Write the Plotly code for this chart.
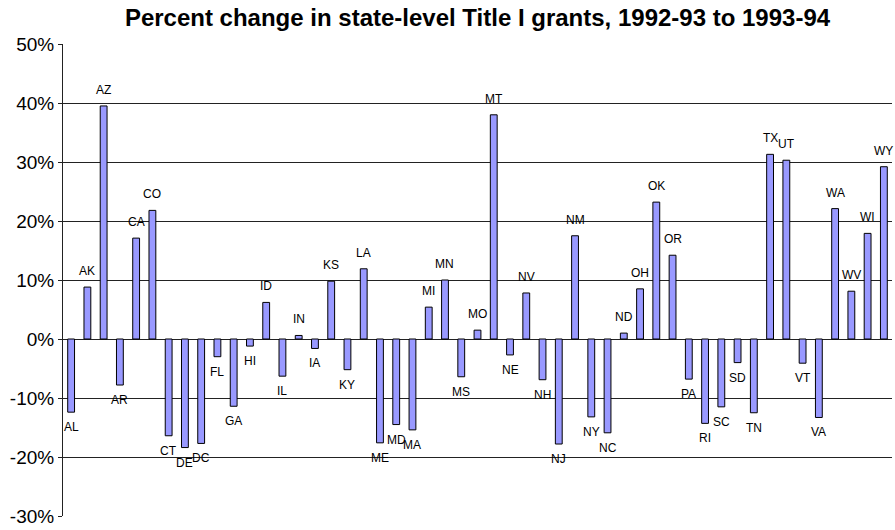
import plotly.graph_objects as go

states = ["AL", "AK", "AZ", "AR", "CA", "CO", "CT", "DE", "DC", "FL", "GA", "HI", "ID",
          "IL", "IN", "IA", "KS", "KY", "LA", "ME", "MD", "MA", "MI", "MN", "MS", "MO",
          "MT", "NE", "NV", "NH", "NJ", "NM", "NY", "NC", "ND", "OH", "OK", "OR", "PA",
          "RI", "SC", "SD", "TN", "TX", "UT", "VT", "VA", "WA", "WV", "WI", "WY"]
pct_change = [-12.4, 8.8, 39.5, -7.8, 17.1, 21.8, -16.4, -18.4, -17.7, -3.0, -11.4, -1.2, 6.2,
              -6.3, 0.6, -1.6, 9.8, -5.2, 11.9, -17.6, -14.5, -15.4, 5.4, 10.0, -6.4, 1.5,
              38.0, -2.7, 7.8, -6.9, -17.8, 17.5, -13.2, -15.9, 1.0, 8.5, 23.2, 14.2, -6.8,
              -14.3, -11.5, -4.0, -12.5, 31.3, 30.3, -4.1, -13.3, 22.1, 8.1, 17.9, 29.2]
y_ticks = [-30, -20, -10, 0, 10, 20, 30, 40, 50]
y_tick_labels = ["-30%", "-20%", "-10%", "0%", "10%", "20%", "30%", "40%", "50%"]
title = "Percent change in state-level Title I grants, 1992-93 to 1993-94"

fig = go.Figure()
fig.add_trace(go.Bar(
    x=states, y=pct_change,
    marker=dict(color="#9999FF", line=dict(color="#000000", width=1)),
    hoverinfo="x+y",
))

for s, v in zip(states, pct_change):
    fig.add_annotation(
        x=s, y=v, text=s, showarrow=False,
        yanchor="bottom" if v >= 0 else "top",
        yshift=7 if v >= 0 else -6,
        font=dict(family="Liberation Sans, Arial, sans-serif", size=12, color="#000000"),
    )

fig.update_layout(
    width=895, height=530,
    margin=dict(l=63, r=3, t=44, b=11),
    paper_bgcolor="#FFFFFF", plot_bgcolor="#FFFFFF",
    bargap=0.58,
    showlegend=False,
    title=dict(text="<b>" + title + "</b>", x=(63 + 892) / 2 / 895, xanchor="center",
               y=1 - 18 / 530, yanchor="middle",
               font=dict(family="Liberation Sans, Arial, sans-serif", size=24, color="#000000")),
    xaxis=dict(showticklabels=False, showgrid=False, zeroline=False, showline=False,
               ticks="", range=[-0.5, len(states) - 0.5]),
    yaxis=dict(range=[-30, 50], tickvals=y_ticks, ticktext=y_tick_labels,
               showgrid=True, gridcolor="#222222", gridwidth=1,
               zeroline=True, zerolinecolor="#222222", zerolinewidth=1,
               showline=True, linecolor="#222222", linewidth=1,
               ticks="outside", ticklen=4, tickcolor="#222222",
               tickfont=dict(family="Liberation Sans, Arial, sans-serif", size=19, color="#000000")),
)

fig.write_html("out.html", config={"displayModeBar": False},
               post_script="document.body.style.margin='0';")
